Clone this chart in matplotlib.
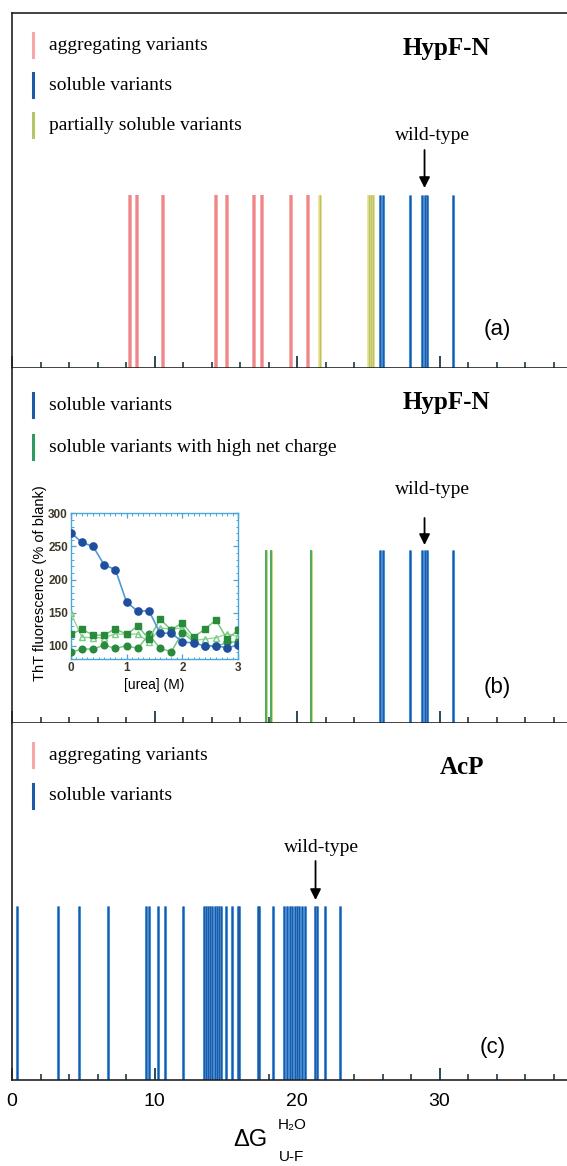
import matplotlib
matplotlib.use("Agg")
import matplotlib.pyplot as plt
from matplotlib.ticker import MultipleLocator
from matplotlib.lines import Line2D

# ---------------- data ----------------
# panel (a) HypF-N
a_aggregating = [8.3, 8.8, 10.6, 14.3, 15.1, 17.0, 17.55, 19.55, 20.75]
a_partial = [21.6, 25.05, 25.2, 25.35]
a_soluble = [25.85, 26.0, 27.95, 28.8, 28.95, 29.1, 30.95]
# panel (b) HypF-N
b_soluble = [25.85, 26.0, 27.95, 28.8, 28.95, 29.1, 30.95]
b_high_charge = [17.8, 18.15, 20.95]
# panel (c) AcP
c_soluble = [0.35, 3.25, 4.73, 6.77, 9.42, 9.63, 10.28, 10.71, 12.0,
             13.44, 13.6, 13.76, 13.91, 14.06, 14.24, 14.4, 14.56, 14.7,
             15.05, 15.42, 15.85, 15.96, 17.25, 17.35, 18.34, 19.08,
             19.33, 19.5, 19.68, 19.83, 20.0, 20.15, 20.32, 20.58,
             21.23, 21.4, 21.94, 23.05]
c_aggregating = []
wild_type = {"a": 28.95, "b": 28.95, "c": 21.3}

# inset: ThT fluorescence vs urea
urea = [0.0, 0.2, 0.4, 0.6, 0.8, 1.0, 1.2, 1.4, 1.6, 1.8, 2.0, 2.2, 2.4, 2.6, 2.8, 3.0]
tht_wt = [271, 256, 250, 222, 215, 166, 152, 153, 119, 119, 106, 104, 100, 100, 97, 101]
tht_g_sq = [117, 125, 116, 116, 126, 117, 130, 110, 140, 124, 135, 113, 125, 139, 110, 124]
tht_g_ci = [90, 95, 95, 101, 96, 100, 96, 117, 96, 91, 120, 106, 99, 99, 105, 106]
tht_g_tri = [150, 113, 112, 112, 118, 117, 118, 105, 127, 125, 127, 108, 110, 112, 118, 114]

BAR_H = 0.487

# ---------------- figure ----------------
W, H = 567, 1166
fig = plt.figure(figsize=(W / 100, H / 100), dpi=100)
SERIF = "Liberation Serif"
SANS = ["Liberation Sans", "DejaVu Sans"]
px_per_unit = 14.25
xmax = (W - 12) / px_per_unit


def fy(y):
    return 1 - y / H


def fx(x):
    return x / W


STY = {
    "agg": [("#f6a8a8", 2.8), ("#ee8484", 1.3)],
    "sol": [("#4a9ade", 2.2), ("#1e58a6", 1.0)],
    "par": [("#e9e08a", 2.6), ("#b9c46a", 1.0)],
    "hc": [("#c8dc7a", 2.2), ("#2e9a5e", 1.1)],
}


def bars(ax, xs, kind):
    for col, lw in STY[kind]:
        ax.vlines(xs, 0, BAR_H, colors=col, lw=lw, zorder=2)


def setup(ax, labels=False):
    ax.set_xlim(0, xmax)
    ax.set_ylim(0, 1)
    ax.set_yticks([])
    ax.xaxis.set_major_locator(MultipleLocator(10))
    ax.xaxis.set_minor_locator(MultipleLocator(2))
    ax.tick_params(axis="x", which="major", direction="in", length=9, width=1.3,
                   color="#1c3a48", top=False, pad=9, labelsize=14)
    ax.tick_params(axis="x", which="minor", direction="in", length=4, width=1.2,
                   color="#1c3a48", top=False)
    ax.spines["right"].set_visible(False)
    for s in ("left", "top", "bottom"):
        ax.spines[s].set_linewidth(1.2)
        ax.spines[s].set_color("#222222")
    if not labels:
        ax.set_xticklabels([])
    else:
        ax.xaxis.set_major_formatter(plt.FuncFormatter(lambda v, p: f"{v:.0f}"))
        for t in ax.get_xticklabels():
            t.set_family(SANS)


def legend_entry(y, kind, text):
    col = STY[kind][1][0] if kind != "agg" else STY[kind][0][0]
    fig.add_artist(Line2D([fx(33), fx(33)], [fy(y - 12), fy(y + 12)],
                          color=col, lw=2.2, transform=fig.transFigure))
    fig.text(fx(49), fy(y), text, family=SERIF, fontsize=14, va="center", ha="left")


def wt_arrow(ax, xv, xt, ytext, y0, y1):
    fig.text(fx(12 + xt * px_per_unit), fy(ytext), "wild-type", family=SERIF,
             fontsize=14, ha="center", va="center")
    ax.annotate("", xy=(xv, fy(y1)), xytext=(xv, fy(y0)),
                xycoords=("data", "figure fraction"),
                textcoords=("data", "figure fraction"),
                arrowprops=dict(arrowstyle="-|>", color="black", lw=1.3,
                                mutation_scale=16, shrinkA=0, shrinkB=0))


left = fx(12)
width = 1 - left
ax_a = fig.add_axes([left, fy(368), width, 355 / H])
ax_b = fig.add_axes([left, fy(723), width, 355 / H])
ax_c = fig.add_axes([left, fy(1080), width, 357 / H])

# panel a
setup(ax_a)
bars(ax_a, a_aggregating, "agg")
bars(ax_a, a_partial, "par")
bars(ax_a, a_soluble, "sol")
legend_entry(45, "agg", "aggregating variants")
legend_entry(85, "sol", "soluble variants")
legend_entry(125, "par", "partially soluble variants")
fig.text(fx(446), fy(48), "HypF-N", family=SERIF, fontsize=18, weight="bold",
         ha="center", va="center")
fig.text(fx(497), fy(330), "(a)", family=SANS, fontsize=16, ha="center", va="center")
wt_arrow(ax_a, wild_type["a"], 29.5, 135, 150, 188)

# panel b
setup(ax_b)
ax_b.spines["top"].set_visible(False)
bars(ax_b, b_high_charge, "hc")
bars(ax_b, b_soluble, "sol")
legend_entry(405, "sol", "soluble variants")
legend_entry(447, "hc", "soluble variants with high net charge")
fig.text(fx(446), fy(403), "HypF-N", family=SERIF, fontsize=18, weight="bold",
         ha="center", va="center")
fig.text(fx(497), fy(688), "(b)", family=SANS, fontsize=16, ha="center", va="center")
wt_arrow(ax_b, wild_type["b"], 29.5, 490, 518, 545)

# panel c
setup(ax_c, labels=True)
ax_c.spines["top"].set_visible(False)
bars(ax_c, c_aggregating, "agg")
bars(ax_c, c_soluble, "sol")
legend_entry(755, "agg", "aggregating variants")
legend_entry(796, "sol", "soluble variants")
fig.text(fx(462), fy(767), "AcP", family=SERIF, fontsize=18, weight="bold",
         ha="center", va="center")
fig.text(fx(493), fy(1047), "(c)", family=SANS, fontsize=16, ha="center", va="center")
wt_arrow(ax_c, wild_type["c"], 21.75, 847, 861, 900)

# axis label
fig.text(fx(250), fy(1140), "ΔG", family=SANS, fontsize=17, ha="center", va="center")
fig.text(fx(292), fy(1125), "H₂O", family=SANS, fontsize=11, ha="center", va="center")
fig.text(fx(292), fy(1157), "U-F", family=SANS, fontsize=11, ha="center", va="center")

# inset
ins = fig.add_axes([fx(70.7), fy(659), 167.6 / W, 145.7 / H])
ins.set_xlim(0, 3)
ins.set_ylim(80, 300)
ins.plot(urea, tht_g_tri, color="#8fd890", lw=1.0, marker="^", ms=4.5,
         mfc="none", mec="#7acc88", zorder=3)
ins.plot(urea, tht_g_ci, color="#6cc47a", lw=1.0, marker="o", ms=4.8,
         mfc="#2a8a3c", mec="#2a8a3c", zorder=3)
ins.plot(urea, tht_g_sq, color="#6cc47a", lw=1.0, marker="s", ms=4.8,
         mfc="#2a8a3c", mec="#2a8a3c", zorder=3)
ins.plot(urea, tht_wt, color="#4a9ad8", lw=1.2, marker="o", ms=5.2,
         mfc="#1f4e9e", mec="#1f4e9e", zorder=4)
ins.set_xticks([0, 1, 2, 3])
ins.set_yticks([100, 150, 200, 250, 300])
ins.xaxis.set_minor_locator(MultipleLocator(0.1))
ins.yaxis.set_minor_locator(MultipleLocator(10))
ins.tick_params(which="both", direction="in", top=True, right=True, color="#4aa6d6",
                labelsize=8.5, labelcolor="#3d3a2a", pad=2)
ins.tick_params(which="major", length=3.5, width=0.9)
ins.tick_params(which="minor", length=1.8, width=0.7)
for t in ins.get_xticklabels() + ins.get_yticklabels():
    t.set_family(SANS)
    t.set_weight("bold")
for s in ins.spines.values():
    s.set_color("#4aa6d6")
    s.set_linewidth(1.0)
fig.text(fx(40), fy(583), "ThT fluorescence (% of blank)", family=SANS, fontsize=10.5,
         rotation=90, ha="center", va="center")
fig.text(fx(154), fy(685), "[urea] (M)", family=SANS, fontsize=10,
         ha="center", va="center")

fig.savefig("out.png", dpi=100)
